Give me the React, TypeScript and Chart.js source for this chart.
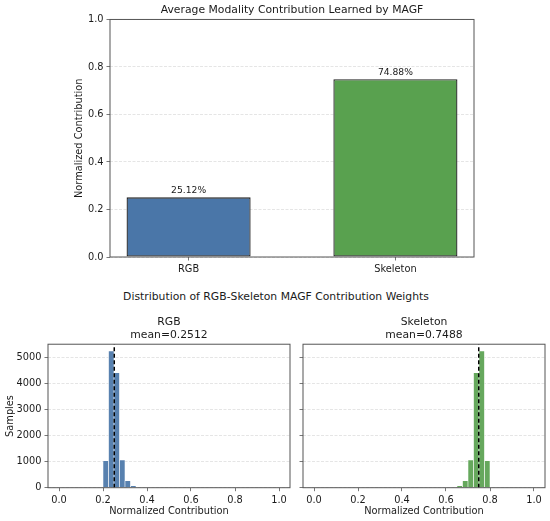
import { useEffect, useRef } from "react";
import { Chart, registerables } from "chart.js";
import type { ChartConfiguration, Plugin } from "chart.js";

Chart.register(...registerables);

const FONT = "'DejaVu Sans', sans-serif";
const TEXT = "#1a1a1a";

// Top panel: mean contribution per modality
const modalities = ["RGB", "Skeleton"];
const avgContribution = [0.2512, 0.7488];
const barColors = ["#4a76a8", "#59a14f"];
const topYTicks = [0, 0.2, 0.4, 0.6, 0.8, 1.0];

// Bottom panels: per-sample weight histograms
const rgbEdges = [0.2, 0.225, 0.25, 0.275, 0.3, 0.325, 0.35];
const rgbCounts = [1035, 5240, 4410, 1065, 270, 75];
const skeletonEdges = [0.65, 0.675, 0.7, 0.725, 0.75, 0.775, 0.8];
const skeletonCounts = [75, 270, 1065, 4410, 5240, 1035];
const histXTicks = [0, 0.2, 0.4, 0.6, 0.8, 1.0];
const histYTicks = [0, 1000, 2000, 3000, 4000, 5000];

const tickFont = { family: FONT, size: 9.8 };
const titleFont = { family: FONT, size: 10.8, weight: "normal" as const, lineHeight: 1.2 };

// matplotlib-like full box around the plot area
const frame: Plugin = {
  id: "frame",
  afterDraw(chart) {
    const { ctx, chartArea: a } = chart;
    ctx.save();
    ctx.strokeStyle = "#555";
    ctx.lineWidth = 1;
    ctx.strokeRect(a.left, a.top, a.right - a.left, a.bottom - a.top);
    ctx.restore();
  },
};

// percentage text above each bar
const barLabels: Plugin = {
  id: "barLabels",
  afterDatasetsDraw(chart) {
    const { ctx } = chart;
    const meta = chart.getDatasetMeta(0);
    ctx.save();
    ctx.font = `9.2px ${FONT}`;
    ctx.fillStyle = TEXT;
    ctx.textAlign = "center";
    ctx.textBaseline = "alphabetic";
    meta.data.forEach((bar, i) => {
      ctx.fillText(`${(avgContribution[i] * 100).toFixed(2)}%`, bar.x, bar.y - 4);
    });
    ctx.restore();
  },
};

function topConfig(): ChartConfiguration {
  return {
    type: "bar",
    data: {
      datasets: [
        {
          data: modalities.map((_, i) => ({ x: i, y: avgContribution[i] })),
          backgroundColor: barColors,
          borderColor: "#222",
          borderWidth: 1.3,
          borderSkipped: false,
          barPercentage: 0.6,
          categoryPercentage: 1,
        },
      ],
    },
    options: {
      responsive: false,
      animation: false,
      events: [],
      layout: { padding: { left: 0, right: 76, top: 0, bottom: 0 } },
      plugins: {
        legend: { display: false },
        tooltip: { enabled: false },
        title: {
          display: true,
          text: "Average Modality Contribution Learned by MAGF",
          fullSize: false,
          color: TEXT,
          font: titleFont,
          padding: { top: 4, bottom: 2.5 },
        },
      },
      scales: {
        x: {
          type: "linear",
          min: -0.38,
          max: 1.38,
          offset: false,
          afterBuildTicks: (s) => {
            s.ticks = modalities.map((_, i) => ({ value: i }));
          },
          afterFit: (s) => {
            s.height = 33;
          },
          ticks: {
            callback: (v) => modalities[v as number] ?? "",
            color: TEXT,
            font: tickFont,
            padding: 3,
            maxRotation: 0,
            autoSkip: false,
          },
          grid: { drawOnChartArea: false, tickLength: 3.5, tickColor: "#555", tickWidth: 0.8, offset: false },
          border: { display: false },
        },
        y: {
          type: "linear",
          min: 0,
          max: 1,
          afterBuildTicks: (s) => {
            s.ticks = topYTicks.map((v) => ({ value: v }));
          },
          afterFit: (s) => {
            s.width = 110;
          },
          ticks: { callback: (v) => Number(v).toFixed(1), color: TEXT, font: tickFont, padding: 3 },
          grid: { color: "rgba(0,0,0,0.1)", tickLength: 3.5, tickColor: "#555", tickWidth: 0.8 },
          border: { display: false, dash: [3, 1.5] },
          title: {
            display: true,
            text: "Normalized Contribution",
            color: TEXT,
            font: tickFont,
            padding: { top: 74, bottom: 0 },
          },
        },
      },
    },
    plugins: [frame, barLabels],
  };
}

const histMax = Math.max(...rgbCounts, ...skeletonCounts) * 1.05;

function histConfig(
  name: string,
  edges: number[],
  counts: number[],
  mean: number,
  color: string,
  first: boolean
): ChartConfiguration {
  return {
    type: "bar",
    data: {
      datasets: [
        {
          type: "line",
          data: [
            { x: mean, y: 0 },
            { x: mean, y: histMax },
          ],
          borderColor: "#000",
          borderWidth: 1.5,
          borderDash: [4, 2.5],
          pointRadius: 0,
          order: 0,
        },
        {
          type: "bar",
          data: counts.map((c, i) => ({ x: (edges[i] + edges[i + 1]) / 2, y: c })),
          backgroundColor: color,
          borderColor: "rgba(255,255,255,0.9)",
          borderWidth: 0.6,
          barPercentage: 1,
          categoryPercentage: 1,
          order: 1,
        },
      ],
    },
    options: {
      responsive: false,
      animation: false,
      events: [],
      layout: { padding: { left: 0, right: first ? 10 : 5, top: 0, bottom: 0 } },
      plugins: {
        legend: { display: false },
        tooltip: { enabled: false },
        title: {
          display: true,
          text: [name, `mean=${mean.toFixed(4)}`],
          fullSize: false,
          color: TEXT,
          font: titleFont,
          padding: { top: 25.5, bottom: 2.8 },
        },
      },
      scales: {
        x: {
          type: "linear",
          min: -0.05,
          max: 1.05,
          offset: false,
          afterBuildTicks: (s) => {
            s.ticks = histXTicks.map((v) => ({ value: v }));
          },
          afterFit: (s) => {
            s.height = 33.3;
          },
          ticks: { callback: (v) => Number(v).toFixed(1), color: TEXT, font: tickFont, padding: 3, maxRotation: 0, autoSkip: false },
          grid: { drawOnChartArea: false, tickLength: 3.5, tickColor: "#555", tickWidth: 0.8, offset: false },
          border: { display: false },
          title: {
            display: true,
            text: "Normalized Contribution",
            color: TEXT,
            font: tickFont,
            padding: { top: 0, bottom: 4 },
          },
        },
        y: {
          type: "linear",
          min: 0,
          max: histMax,
          afterBuildTicks: (s) => {
            s.ticks = histYTicks.map((v) => ({ value: v }));
          },
          afterFit: (s) => {
            s.width = first ? 48 : 8;
          },
          ticks: { display: first, callback: (v) => String(v), color: TEXT, font: tickFont, padding: 3 },
          grid: { color: "rgba(0,0,0,0.1)", tickLength: 3.5, tickColor: "#555", tickWidth: 0.8 },
          border: { display: false, dash: [3, 1.5] },
          title: {
            display: first,
            text: "Samples",
            color: TEXT,
            font: tickFont,
            padding: { top: 4.2, bottom: 0 },
          },
        },
      },
    },
    plugins: [frame],
  };
}

type PanelProps = {
  make: () => ChartConfiguration;
  left: number;
  top: number;
  width: number;
  height: number;
};

function Panel({ make, left, top, width, height }: PanelProps) {
  const canvasRef = useRef<HTMLCanvasElement | null>(null);

  useEffect(() => {
    if (!canvasRef.current) return;
    const chart = new Chart(canvasRef.current, make());
    return () => {
      chart.destroy();
    };
  }, []);

  return (
    <canvas
      ref={canvasRef}
      width={width}
      height={height}
      style={{ position: "absolute", left, top, width, height, display: "block" }}
    />
  );
}

export default function App() {
  return (
    <div style={{ position: "absolute", left: 0, top: 0, width: 550, height: 521, background: "#fff", overflow: "hidden" }}>
      <Panel make={topConfig} left={0} top={0} width={550} height={290} />
      <div
        style={{
          position: "absolute",
          left: 0,
          top: 290,
          width: 552,
          textAlign: "center",
          font: `10.8px ${FONT}`,
          lineHeight: "14px",
          color: TEXT,
        }}
      >
        Distribution of RGB-Skeleton MAGF Contribution Weights
      </div>
      <Panel
        make={() => histConfig("RGB", rgbEdges, rgbCounts, avgContribution[0], "rgba(74,118,168,0.92)", true)}
        left={0}
        top={290}
        width={300}
        height={231}
      />
      <Panel
        make={() => histConfig("Skeleton", skeletonEdges, skeletonCounts, avgContribution[1], "rgba(89,161,79,0.92)", false)}
        left={295}
        top={290}
        width={255}
        height={231}
      />
    </div>
  );
}
